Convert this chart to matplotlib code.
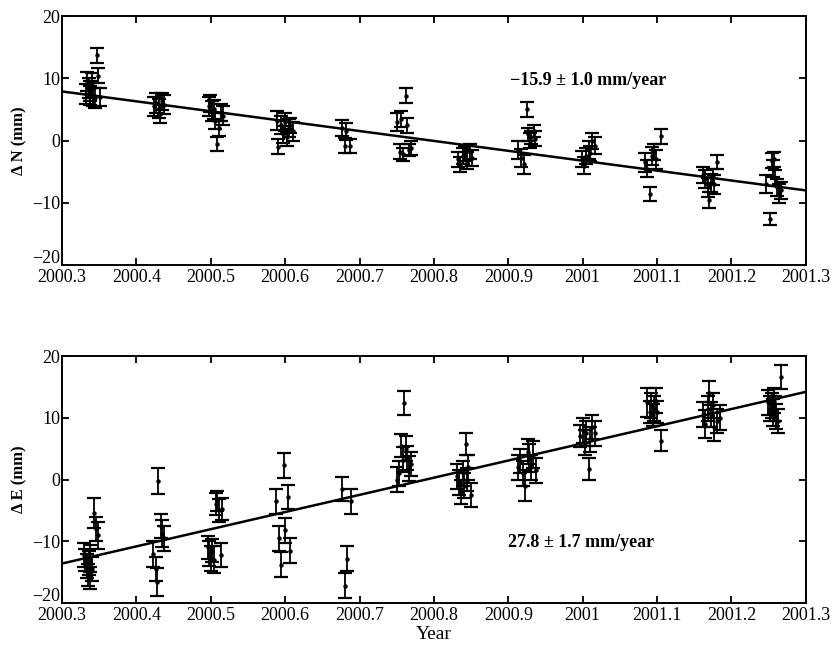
"""
GPS station displacement time series (north and east) with linear fits
"""

import matplotlib
matplotlib.use("Agg")
import matplotlib.pyplot as plt
import matplotlib.transforms as mtransforms
import numpy as np

# ---- north component: epoch (year), displacement (mm), 1-sigma (mm)
n_time = [2000.332, 2000.334, 2000.336, 2000.338, 2000.340, 2000.342, 2000.344, 2000.347, 2000.349, 2000.351, 2000.337,
          2000.424, 2000.427, 2000.430, 2000.432, 2000.435, 2000.437,
          2000.497, 2000.499, 2000.502, 2000.504, 2000.506, 2000.509, 2000.511, 2000.514, 2000.516,
          2000.589, 2000.591, 2000.594, 2000.597, 2000.600, 2000.602, 2000.605, 2000.607, 2000.610,
          2000.677, 2000.680, 2000.682, 2000.687,
          2000.751, 2000.754, 2000.756, 2000.758, 2000.762, 2000.764, 2000.766, 2000.769,
          2000.832, 2000.835, 2000.839, 2000.842, 2000.845, 2000.848, 2000.851,
          2000.913, 2000.917, 2000.921, 2000.925, 2000.927, 2000.929, 2000.931, 2000.934, 2000.936,
          2000.999, 2001.002, 2001.005, 2001.008, 2001.010, 2001.013, 2001.016,
          2001.084, 2001.087, 2001.090, 2001.093, 2001.096, 2001.099, 2001.105,
          2001.162, 2001.165, 2001.168, 2001.170, 2001.172, 2001.175, 2001.177, 2001.181,
          2001.247, 2001.252, 2001.254, 2001.256, 2001.258, 2001.261, 2001.264, 2001.267, 2001.257]
n_val = [7.5, 9.5, 8.5, 7.2, 9.0, 7.0, 6.8, 13.7, 10.4, 7.0, 8.0,
         5.5, 6.0, 5.2, 4.3, 6.3, 5.8,
         5.5, 6.0, 4.8, 5.0, 3.2, -0.6, 2.0, 4.5, 4.0,
         3.2, -1.0, 2.5, 1.0, 3.0, 0.5, 2.0, 2.5, 1.5,
         2.0, -0.8, 1.5, -0.9,
         3.0, -1.8, 3.5, -2.2, 7.2, 2.5, -1.5, -1.2,
         -3.0, -3.8, -2.5, -2.0, -3.2, -1.8, -2.8,
         -1.5, -2.8, -3.8, 5.0, 1.0, 0.0, 0.5, 1.5, 0.3,
         -3.0, -4.0, -2.5, -1.5, -2.0, 0.0, -0.8,
         -3.5, -4.5, -8.6, -2.5, -1.8, -3.0, 0.7,
         -5.5, -6.2, -7.5, -9.6, -6.8, -5.8, -7.0, -3.4,
         -7.0, -12.6, -3.2, -4.5, -6.0, -7.5, -8.5, -8.0, -3.0]
n_err = [1.6, 1.5, 1.6, 1.5, 1.8, 1.5, 1.6, 1.2, 1.2, 1.5, 1.6,
         1.5, 1.6, 1.5, 1.5, 1.4, 1.5,
         1.5, 1.4, 1.6, 1.5, 1.3, 1.1, 1.2, 1.4, 1.5,
         1.5, 1.2, 1.4, 1.4, 1.5, 1.3, 1.4, 1.2, 1.5,
         1.3, 1.2, 1.4, 1.1,
         1.4, 1.2, 1.3, 1.0, 1.2, 1.2, 1.0, 1.1,
         1.2, 1.2, 1.3, 1.2, 1.3, 1.2, 1.3,
         1.5, 1.4, 1.5, 1.2, 1.1, 1.2, 1.1, 1.0, 1.2,
         1.3, 1.4, 1.3, 1.4, 1.2, 1.3, 1.4,
         1.5, 1.4, 1.1, 1.4, 1.3, 1.5, 1.2,
         1.3, 1.4, 1.5, 1.3, 1.4, 1.3, 1.5, 1.1,
         1.4, 1.0, 1.2, 1.4, 1.3, 1.4, 1.5, 1.4, 1.2]

# ---- east component
e_time = [2000.329, 2000.331, 2000.333, 2000.335, 2000.337, 2000.338, 2000.340, 2000.343, 2000.346, 2000.349, 2000.336,
          2000.423, 2000.426, 2000.428, 2000.429, 2000.433, 2000.435, 2000.437,
          2000.496, 2000.498, 2000.500, 2000.502, 2000.504, 2000.507, 2000.509, 2000.511, 2000.514, 2000.515,
          2000.588, 2000.592, 2000.595, 2000.598, 2000.600, 2000.604, 2000.607,
          2000.677, 2000.681, 2000.683, 2000.688,
          2000.750, 2000.753, 2000.756, 2000.758, 2000.760, 2000.762, 2000.764, 2000.766, 2000.769,
          2000.831, 2000.834, 2000.837, 2000.839, 2000.841, 2000.843, 2000.846, 2000.850, 2000.844,
          2000.913, 2000.916, 2000.920, 2000.923, 2000.926, 2000.928, 2000.930, 2000.933, 2000.937,
          2000.997, 2001.000, 2001.003, 2001.005, 2001.008, 2001.010, 2001.013, 2001.017,
          2001.087, 2001.090, 2001.092, 2001.094, 2001.096, 2001.098, 2001.100, 2001.105,
          2001.162, 2001.165, 2001.168, 2001.170, 2001.172, 2001.175, 2001.177, 2001.180, 2001.184,
          2001.249, 2001.252, 2001.254, 2001.256, 2001.258, 2001.260, 2001.263, 2001.267, 2001.257]
e_val = [-12.2, -13.0, -14.0, -15.5, -12.8, -16.0, -14.5, -5.4, -8.0, -9.0, -13.5,
         -12.0, -14.5, -16.6, -0.2, -7.5, -8.8, -9.5,
         -11.0, -12.0, -12.8, -11.5, -13.0, -4.0, -3.5, -5.0, -12.2, -4.8,
         -3.5, -9.5, -13.8, 2.3, -8.2, -2.8, -11.5,
         -1.5, -17.2, -12.8, -3.5,
         0.0, 1.0, 5.5, 3.2, 12.4, 5.0, 3.5, 1.8, 2.5,
         0.5, -0.5, -2.0, 1.0, -1.0, 5.8, 2.0, -2.5, 0.0,
         2.0, 3.0, 1.0, -1.0, 4.5, 3.5, 2.0, 4.0, 1.5,
         7.0, 8.0, 6.0, 7.5, 1.7, 6.5, 8.5, 7.5,
         12.5, 11.0, 12.0, 10.5, 11.5, 12.8, 11.0, 6.3,
         10.5, 9.0, 11.5, 14.0, 10.5, 12.0, 8.5, 9.5, 10.0,
         12.5, 11.5, 12.0, 10.8, 11.5, 10.2, 9.5, 16.6, 12.8]
e_err = [2.0, 1.8, 2.0, 1.8, 2.2, 1.8, 2.0, 2.4, 2.0, 2.2, 1.9,
         2.1, 2.0, 2.2, 2.1, 2.0, 2.2, 2.0,
         1.8, 2.0, 2.0, 1.8, 2.2, 1.8, 1.6, 1.8, 2.0, 1.8,
         2.0, 2.0, 2.0, 2.0, 2.0, 1.9, 2.0,
         1.9, 2.0, 2.0, 2.0,
         2.0, 2.0, 1.9, 2.0, 1.9, 2.0, 1.9, 2.0, 2.0,
         2.0, 2.0, 2.0, 2.0, 2.0, 1.8, 2.0, 2.0, 1.8,
         2.0, 2.0, 2.0, 2.5, 2.0, 2.2, 2.0, 2.2, 2.0,
         1.8, 2.0, 2.0, 2.0, 1.8, 2.0, 2.0, 2.0,
         2.3, 1.8, 2.0, 1.8, 2.0, 2.0, 1.8, 1.7,
         2.0, 2.2, 2.0, 2.0, 2.0, 2.0, 2.2, 2.0, 2.0,
         2.0, 2.0, 2.0, 2.2, 2.0, 2.0, 2.0, 2.0, 2.0]

# ---- linear fits: value at start year and rate (mm/year)
fit_start = 2000.3
fit_end = 2001.3
n_fit_at_start = 7.9
n_rate = -15.9
e_fit_at_start = -13.6
e_rate = 27.8

n_label = "\u221215.9 \u00b1 1.0 mm/year"
e_label = "27.8 \u00b1 1.7 mm/year"

x_ticks = [2000.3, 2000.4, 2000.5, 2000.6, 2000.7, 2000.8, 2000.9, 2001.0, 2001.1, 2001.2, 2001.3]
x_tick_labels = ["2000.3", "2000.4", "2000.5", "2000.6", "2000.7", "2000.8",
                 "2000.9", "2001", "2001.1", "2001.2", "2001.3"]
y_ticks = [-20, -10, 0, 10, 20]
y_tick_labels = ["\u221220", "\u221210", "0", "10", "20"]

plt.rcParams["font.family"] = ["Liberation Serif", "DejaVu Serif"]
plt.rcParams["font.size"] = 13


def draw_panel(fig, ax, t, v, err, at_start, rate, label, label_xy, ylabel):
    ax.errorbar(t, v, yerr=err, fmt="o", color="black", markersize=2.2,
                elinewidth=1.3, capsize=5, capthick=1.6)
    xs = np.array([fit_start, fit_end])
    ax.plot(xs, at_start + rate * (xs - fit_start), color="black", linewidth=1.8)
    ax.text(label_xy[0], label_xy[1], label, ha="left", va="center",
            fontsize=13, fontweight="bold")
    ax.set_xlim(2000.3, 2001.3)
    ax.set_ylim(-20, 20)
    ax.set_xticks(x_ticks)
    ax.set_xticklabels(x_tick_labels)
    ax.set_yticks(y_ticks)
    ax.set_yticklabels(y_tick_labels)
    ax.tick_params(direction="in", length=5, width=1.3, top=True, right=True,
                   labelsize=13)
    ax.tick_params(axis="x", pad=3)
    ax.tick_params(axis="y", pad=1)
    # lift the bottom y label so it clears the first year label
    shift = mtransforms.ScaledTranslation(0, 6 / 72, fig.dpi_scale_trans)
    low = ax.get_yticklabels()[0]
    low.set_transform(low.get_transform() + shift)
    for s in ax.spines.values():
        s.set_linewidth(1.4)
    ax.set_ylabel(ylabel, fontsize=12, fontweight="bold", labelpad=4)


fig = plt.figure(figsize=(8.32, 6.45), dpi=100)
ax_n = fig.add_axes([0.0745, 0.589, 0.894, 0.386])
ax_e = fig.add_axes([0.0745, 0.065, 0.894, 0.383])

draw_panel(fig, ax_n, n_time, n_val, n_err, n_fit_at_start, n_rate, n_label,
           (2000.902, 9.7), "\u0394 N (mm)")
draw_panel(fig, ax_e, e_time, e_val, e_err, e_fit_at_start, e_rate, e_label,
           (2000.900, -10.2), "\u0394 E (mm)")
ax_e.set_xlabel("Year", fontsize=14, labelpad=1)

fig.savefig("out.png", dpi=100)
